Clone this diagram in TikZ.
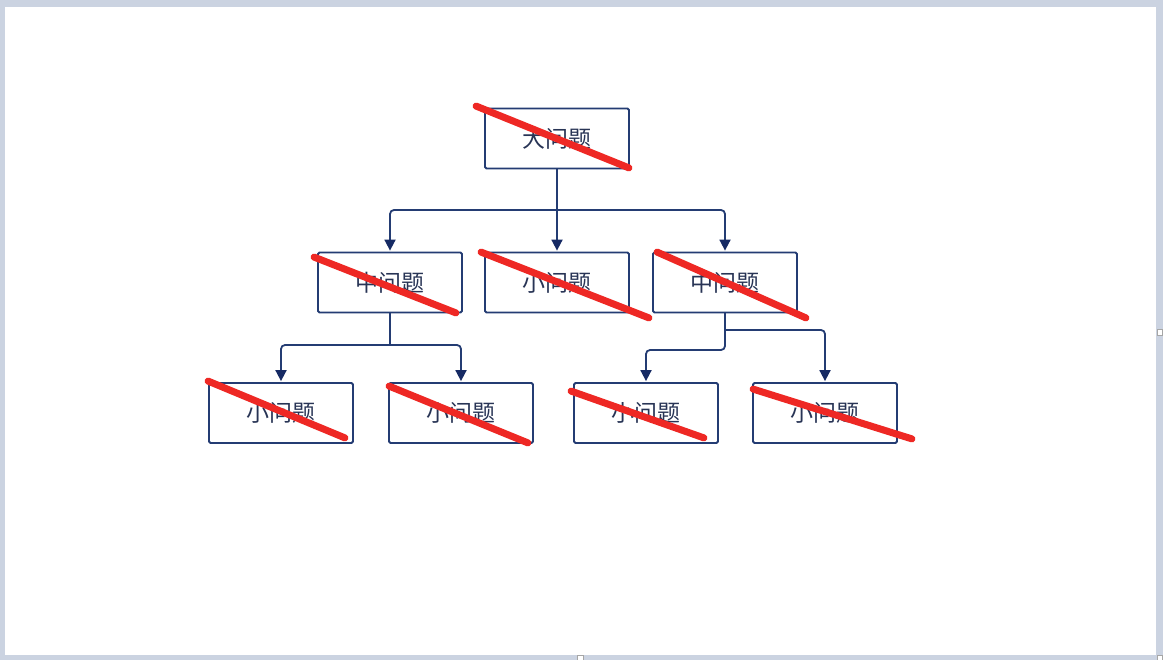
\documentclass[tikz,border=0pt]{standalone}
\usepackage{fontspec}
\newfontfamily\cjk{Noto Sans CJK SC}
\usetikzlibrary{arrows.meta,calc}
\definecolor{navy}{RGB}{36,60,115}
\definecolor{tipnavy}{RGB}{22,42,100}
\definecolor{txtnavy}{RGB}{40,52,85}
\definecolor{strike}{RGB}{238,40,36}
\definecolor{framec}{RGB}{203,211,225}
\begin{document}
\begin{tikzpicture}[x=1pt,y=-1pt,
  box/.style={draw=navy, line width=1.8pt, minimum width=144pt, minimum height=60pt, inner sep=0pt, rounded corners=1.5pt, text=txtnavy, font=\cjk\fontsize{23}{26}\selectfont},
  conn/.style={draw=navy, line width=1.8pt, rounded corners=4pt, line cap=rect},
  arr/.style={conn, line cap=butt, shorten >=1pt, -{Triangle[width=11pt,length=11pt,fill=tipnavy,color=tipnavy]}},
  strikeline/.style={draw=strike, line width=7pt, line cap=round},
  handle/.style={draw=gray!70, fill=white, line width=0.6pt}]
\useasboundingbox (0,0) rectangle (1163,660);
\fill[framec] (0,0) rectangle (1163,660);
\fill[white] (5,7) rectangle (1156,655);
\draw[handle] (1157.5,329.5) rectangle (1162.5,335);
\draw[handle] (577.5,655.5) rectangle (583,660);
\draw[handle] (1157.5,655.5) rectangle (1162.5,660);

% boxes
\node[box] (T)  at (557,138.5) {大问题};
\node[box] (M1) at (390,282.5) {中问题};
\node[box] (M2) at (557,282.5) {小问题};
\node[box] (M3) at (725,282.5) {中问题};
\node[box] (B1) at (281,413) {小问题};
\node[box] (B2) at (461,413) {小问题};
\node[box] (B3) at (646,413) {小问题};
\node[box] (B4) at (825,413) {小问题};

% junctions
\coordinate (j1) at (557,210);
\coordinate (j2) at (390,345);
\coordinate (j3) at (725,330);
\coordinate (j4) at (725,350);

% connectors
\draw[conn] (T.south) -- (j1);
\draw[arr] (j1) -| (M1.north);
\draw[arr] (j1) -| (M3.north);
\draw[arr] (j1) -- (M2.north);
\draw[conn] (M1.south) -- (j2);
\draw[arr] (j2) -| (B1.north);
\draw[arr] (j2) -| (B2.north);
\draw[conn] (M3.south) -- (j3);
\draw[arr] (j3) -| (B4.north);
\draw[arr] (j3) -- (j4) -| (B3.north);

% red strike lines
\draw[strikeline] ($(T.north west)+(-8,-1.5)$) -- ($(T.south east)+(-1,-1.5)$);
\draw[strikeline] ($(M1.north west)+(-3,5.5)$) -- ($(M1.south east)+(-7,-0.5)$);
\draw[strikeline] ($(M2.north west)+(-3,0.5)$) -- ($(M2.south east)+(19,4.5)$);
\draw[strikeline] ($(M3.north west)+(5,0.5)$) -- ($(M3.south east)+(8,4.5)$);
\draw[strikeline] ($(B1.north west)+(0,-1)$) -- ($(B1.south east)+(-9,-6)$);
\draw[strikeline] ($(B2.north west)+(1,4)$) -- ($(B2.south east)+(-6,-1)$);
\draw[strikeline] ($(B3.north west)+(-2,9)$) -- ($(B3.south east)+(-15,-6)$);
\draw[strikeline] ($(B4.north west)+(1,7)$) -- ($(B4.south east)+(14,-5)$);
\end{tikzpicture}
\end{document}
